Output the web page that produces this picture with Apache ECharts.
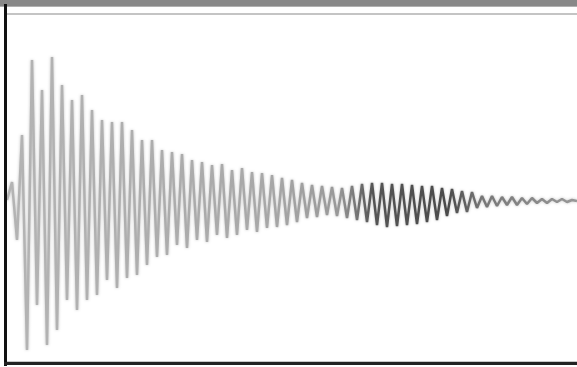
<!DOCTYPE html>
<html>
<head>
<meta charset="utf-8">
<script src="https://cdn.jsdelivr.net/npm/echarts@6/dist/echarts.min.js"></script>
<style>
html,body{margin:0;padding:0;background:#fff;}
#chart{width:577px;height:367px;}
</style>
</head>
<body>
<div id="chart"></div>
<script>
// Sample index (category) and amplitude
const sampleIndex = [];
const amplitude = [
  0, 18, -40, 65, -150, 140, -105, 110, -145, 143,
  -130, 115, -100, 100, -110, 105, -100, 90, -95, 80,
  -80, 78, -88, 78, -78, 70, -75, 60, -65, 60,
  -57, 50, -55, 48, -45, 46, -48, 40, -40, 38,
  -42, 35, -35, 36, -38, 30, -35, 32, -30, 28,
  -32, 27, -28, 25, -27, 22, -25, 20, -22, 17,
  -18, 15, -17, 14, -15, 13, -16, 12, -18, 14,
  -20, 16, -22, 17, -25, 17, -27, 16, -26, 16,
  -25, 15, -24, 14, -22, 14, -20, 12, -16, 11,
  -13, 9, -12, 8, -8, 4, -7, 4, -6, 3,
  -5, 3, -5, 2, -4, 2, -3, 1, -3, 1,
  -2, 1, -2, 0, -1
];
for (let i = 0; i < amplitude.length; i++) sampleIndex.push(String(i));

const chart = echarts.init(document.getElementById('chart'), null, {renderer: 'canvas'});
chart.setOption({
  animation: false,
  backgroundColor: '#ffffff',
  grid: {left: 7, right: 0, top: 15, bottom: 5, containLabel: false},
  xAxis: {
    type: 'category', data: sampleIndex, boundaryGap: false,
    axisLine: {show: false}, axisTick: {show: false}, axisLabel: {show: false}, splitLine: {show: false}
  },
  yAxis: {
    type: 'value', min: -162, max: 185,
    axisLine: {show: false}, axisTick: {show: false}, axisLabel: {show: false}, splitLine: {show: false}
  },
  series: [{
    type: 'line',
    data: amplitude,
    showSymbol: false,
    smooth: false,
    lineStyle: {
      width: 2.5,
      shadowBlur: 3,
      shadowColor: 'rgba(0,0,0,0.25)',
      color: new echarts.graphic.LinearGradient(0, 0, 1, 0, [
        {offset: 0, color: '#b4b4b4'},
        {offset: 0.45, color: '#a8a8a8'},
        {offset: 0.58, color: '#999999'},
        {offset: 0.64, color: '#555555'},
        {offset: 0.77, color: '#4a4a4a'},
        {offset: 0.83, color: '#777777'},
        {offset: 1, color: '#999999'}
      ])
    }
  }],
  graphic: [
    {type: 'rect', shape: {x: 0, y: 0, width: 577, height: 6}, style: {fill: '#888888'}, z: 10},
    {type: 'rect', shape: {x: 0, y: 6, width: 577, height: 1}, style: {fill: '#b0b0b0'}, z: 10},
    {type: 'rect', shape: {x: 7, y: 13, width: 570, height: 2}, style: {fill: '#c4c4c4'}, z: 10},
    {type: 'rect', shape: {x: 4, y: 4, width: 3, height: 362}, style: {fill: '#111111'}, z: 10},
    {type: 'rect', shape: {x: 7, y: 361, width: 570, height: 1}, style: {fill: '#c8c8c8'}, z: 10},
    {type: 'rect', shape: {x: 4, y: 362, width: 573, height: 3}, style: {fill: '#222222'}, z: 10}
  ]
});
</script>
</body>
</html>
